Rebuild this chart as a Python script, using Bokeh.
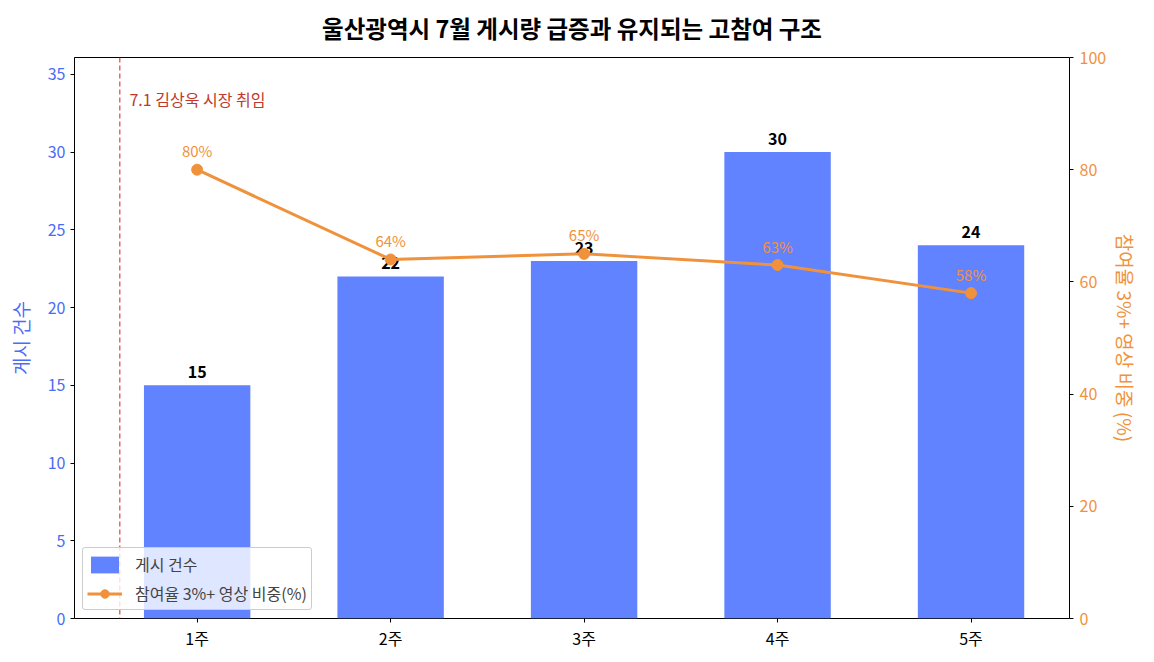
from bokeh.plotting import figure
from bokeh.models import (ColumnDataSource, Range1d, LinearAxis, Span, Label,
                          FixedTicker, Legend, LegendItem)
from bokeh.embed import file_html
from bokeh.resources import INLINE
from bokeh.core.properties import value

weeks = ["1주", "2주", "3주", "4주", "5주"]
posts = [15, 22, 23, 30, 24]
share = [80, 64, 65, 63, 58]
title_text = "울산광역시 7월 게시량 급증과 유지되는 고참여 구조"
event_label = "7.1 김상욱 시장 취임"

FONT = "Noto Sans CJK KR"
BLUE = "#6183FF"
BLUE_TXT = "#4A6CF7"
ORANGE = "#F0923B"
RED = "#D9534F"

X0, X1 = -0.634, 4.509
Y1 = 36.08

xs = list(range(len(weeks)))
src = ColumnDataSource(dict(
    x=xs, posts=posts, share=share, weeks=weeks,
    posts_lbl=[str(v) for v in posts],
    share_lbl=[f"{v}%" for v in share],
))

p = figure(width=1142, height=652, output_backend="svg", toolbar_location=None,
           x_range=Range1d(X0, X1), y_range=Range1d(0, Y1),
           min_border_left=74, min_border_right=71, min_border_top=57,
           min_border_bottom=34)
p.title.text = title_text
p.title.text_font = FONT
p.title.text_font_size = "23.5px"
p.title.text_font_style = "bold"
p.title.align = "center"
p.title.vertical_align = "top"
p.title.text_color = "#000000"
p.title.standoff = 21

p.grid.visible = False
p.outline_line_color = "#000000"
p.outline_line_width = 1
p.background_fill_color = "white"

p.extra_y_ranges = {"pct": Range1d(0, 100)}

bars = p.vbar(x="x", top="posts", width=0.55, source=src, fill_color=BLUE,
              line_color=None)

# event line
p.add_layout(Span(location=-0.4, dimension="height", line_color=RED,
                  line_dash="5 3", line_width=1.5, line_alpha=0.85))
p.add_layout(Label(x=-0.35, y=33.44, text=event_label, text_font=FONT,
                   text_font_size="16px", text_color="#C0392B",
                   text_baseline="middle"))

# bar labels
p.text(x="x", y="posts", text="posts_lbl", source=src, text_font=value(FONT),
       text_font_size="16px", text_font_style="bold", text_color="#000000",
       text_align="center", text_baseline="bottom", y_offset=-7)

line = p.line(x="x", y="share", source=src, y_range_name="pct",
              line_color=ORANGE, line_width=3)
dots = p.scatter(x="x", y="share", source=src, y_range_name="pct", size=11,
                 fill_color=ORANGE, line_color=ORANGE)
p.text(x="x", y="share", text="share_lbl", source=src, y_range_name="pct",
       text_font=value(FONT), text_font_size="15px", text_color=ORANGE,
       text_align="center", text_baseline="middle", y_offset=-19)

# axes
xa = p.xaxis[0]
xa.ticker = FixedTicker(ticks=xs)
xa.major_label_overrides = {i: w for i, w in enumerate(weeks)}
xa.major_label_text_font = FONT
xa.major_label_text_font_size = "16px"
xa.major_label_text_color = "#000000"
xa.major_label_standoff = 3
xa.minor_tick_line_color = None
xa.major_tick_in = 0
xa.major_tick_out = 4
xa.axis_line_color = None

ya = p.yaxis[0]
ya.ticker = FixedTicker(ticks=[0, 5, 10, 15, 20, 25, 30, 35])
ya.axis_label = "게시 건수"
ya.axis_label_text_font = FONT
ya.axis_label_text_font_size = "19px"
ya.axis_label_text_font_style = "normal"
ya.axis_label_text_color = BLUE_TXT
ya.axis_label_standoff = 11
ya.major_label_text_font = FONT
ya.major_label_text_font_size = "16px"
ya.major_label_text_color = BLUE_TXT
ya.major_label_standoff = 5
ya.minor_tick_line_color = None
ya.major_tick_in = 0
ya.major_tick_out = 4
ya.axis_line_color = None

ra = LinearAxis(y_range_name="pct", ticker=FixedTicker(ticks=[0, 20, 40, 60, 80, 100]))
ra.axis_label = "참여율 3%+ 영상 비중 (%)"
ra.axis_label_text_font = FONT
ra.axis_label_text_font_size = "19px"
ra.axis_label_text_font_style = "normal"
ra.axis_label_text_color = ORANGE
ra.axis_label_standoff = 3
ra.major_label_text_font = FONT
ra.major_label_text_font_size = "16px"
ra.major_label_text_color = ORANGE
ra.major_label_standoff = 6
ra.minor_tick_line_color = None
ra.major_tick_in = 0
ra.major_tick_out = 4
ra.axis_line_color = None
p.add_layout(ra, "right")

legend = Legend(items=[
    LegendItem(label="게시 건수", renderers=[bars]),
    LegendItem(label="참여율 3%+ 영상 비중(%)", renderers=[line, dots]),
], location="bottom_left")
legend.label_text_font = FONT
legend.label_text_font_size = "16px"
legend.background_fill_alpha = 0.8
legend.border_line_color = "#CCCCCC"
legend.border_line_alpha = 1
legend.border_radius = 3
legend.margin = 8
legend.padding = 4
legend.spacing = 5
legend.glyph_width = 35
legend.glyph_height = 21
legend.label_standoff = 13
legend.label_height = 21
p.add_layout(legend)

open("out.html", "w").write(file_html(p, INLINE))
